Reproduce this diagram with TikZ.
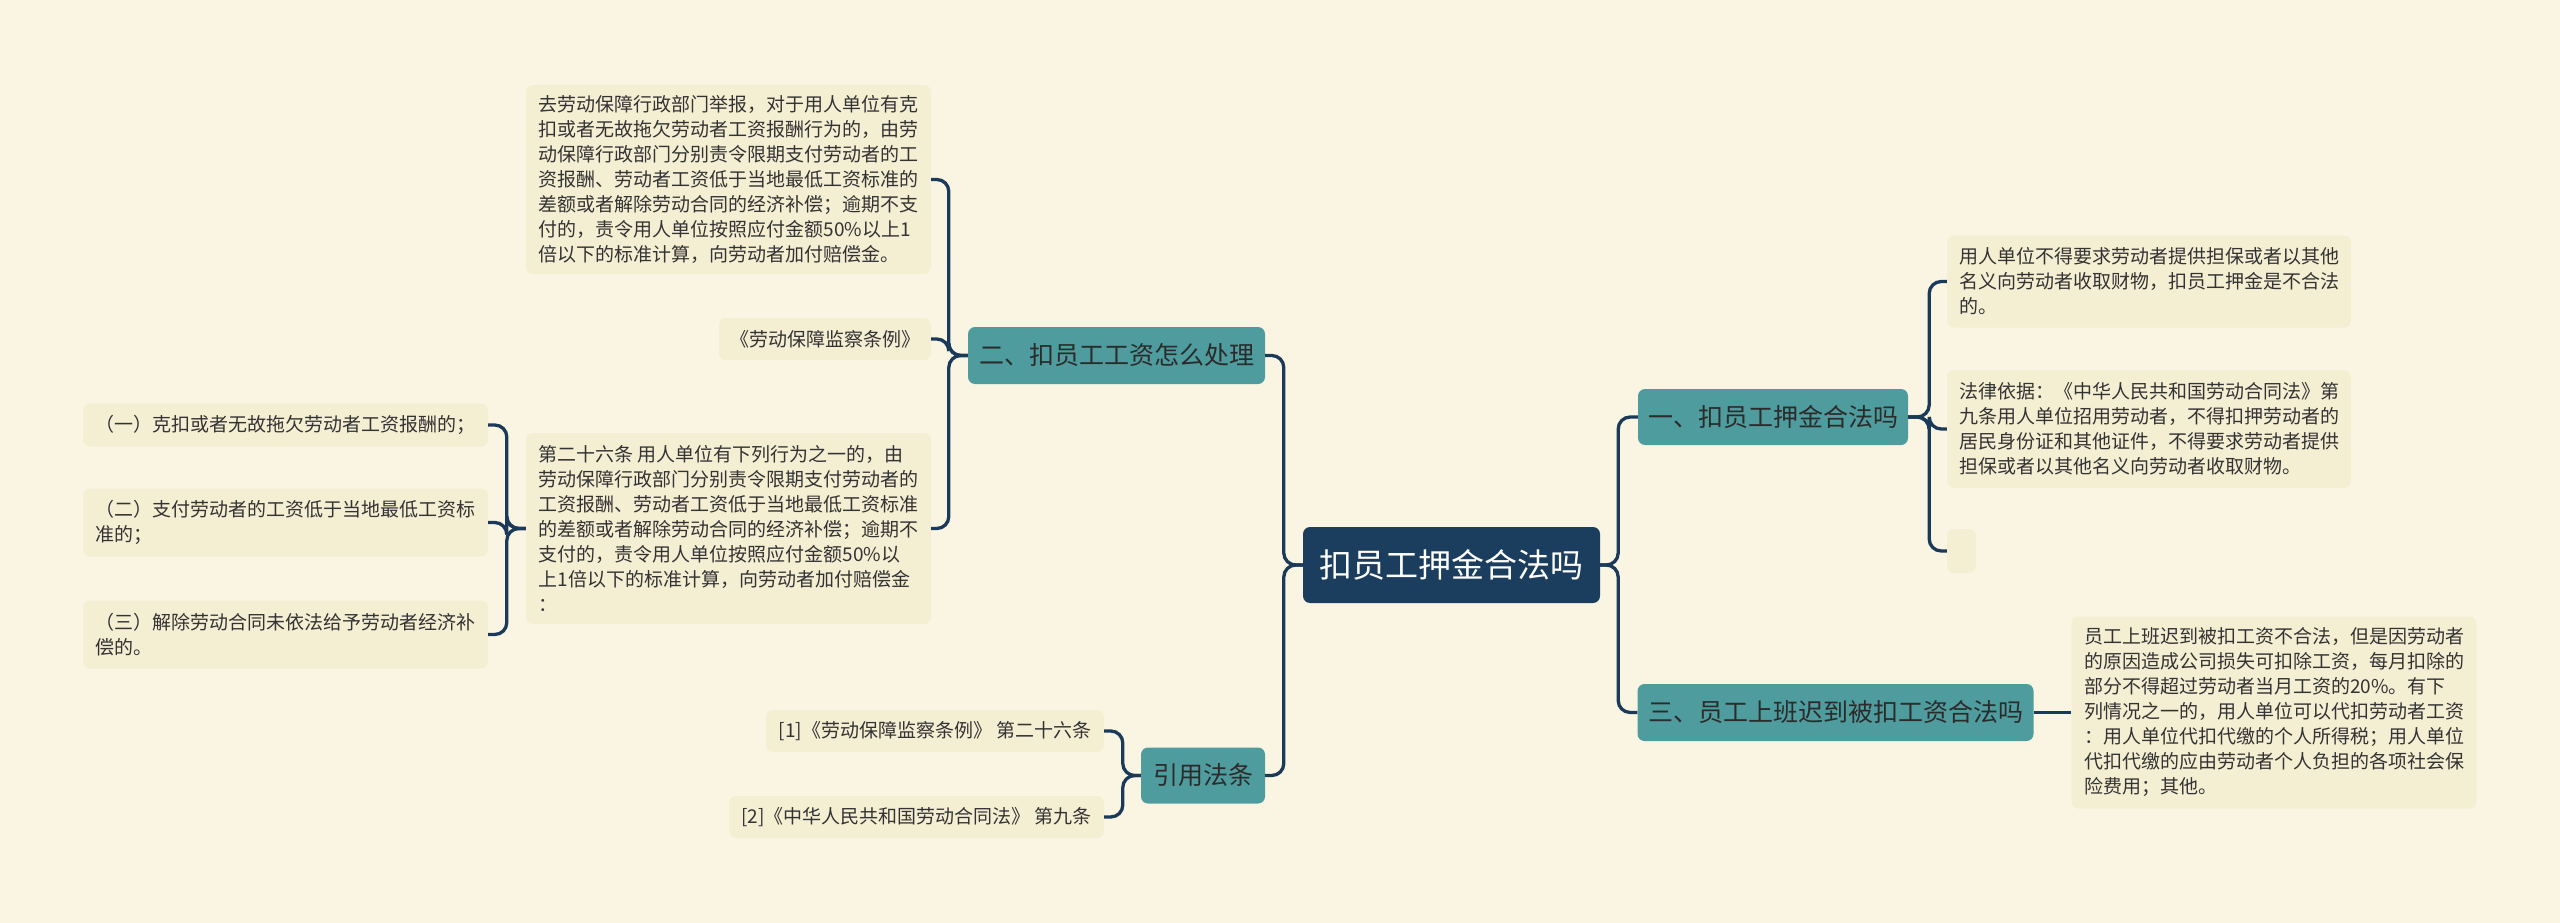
\documentclass[tikz,border=0pt]{standalone}
\usepackage{fontspec}
\setmainfont{Noto Sans CJK SC}
\usetikzlibrary{calc}
\definecolor{bg}{HTML}{FAF5E2}
\definecolor{leafc}{HTML}{F4EED3}
\definecolor{tealc}{HTML}{4F9C9E}
\definecolor{navyc}{HTML}{1C3E5E}
\definecolor{linec}{HTML}{1B3A5A}
\definecolor{txtc}{HTML}{333333}
\tikzset{
  leafbox/.style={fill=leafc, rounded corners=7pt, align=left, text=txtc,
    font=\fontsize{19}{25}\selectfont, inner sep=0pt},
  topicbox/.style={fill=tealc, rounded corners=7pt, text=txtc!85!black,
    font=\fontsize{25}{30}\selectfont, inner sep=0pt},
  rootbox/.style={fill=navyc, rounded corners=7pt, text=white,
    font=\fontsize{33}{38}\selectfont, inner sep=0pt},
  conn/.style={draw=linec, line width=3.3pt, rounded corners=12pt}
}
\begin{document}
\begin{tikzpicture}[x=1pt,y=-1pt]
\fill[bg] (0,0) rectangle (2560,923);
\useasboundingbox (0,0) rectangle (2560,923);

% root and topics
\node[rootbox, minimum width=297pt, minimum height=76pt] (root) at (1451.5,565) {扣员工押金合法吗};
\node[topicbox, minimum width=297pt, minimum height=57pt] (A) at (1116.5,355.5) {二、扣员工工资怎么处理};
\node[topicbox, minimum width=124pt, minimum height=56pt] (B) at (1203,775.5) {引用法条};
\node[topicbox, minimum width=270pt, minimum height=56pt] (C) at (1773,417) {一、扣员工押金合法吗};
\node[topicbox, minimum width=396pt, minimum height=57pt] (D) at (1835.5,712.5) {三、员工上班迟到被扣工资合法吗};

% leaves of A
\node[leafbox, minimum width=405pt, minimum height=189pt] (A1) at (728.5,179.5) {去劳动保障行政部门举报，对于用人单位有克\\扣或者无故拖欠劳动者工资报酬行为的，由劳\\动保障行政部门分别责令限期支付劳动者的工\\资报酬、劳动者工资低于当地最低工资标准的\\差额或者解除劳动合同的经济补偿；逾期不支\\付的，责令用人单位按照应付金额50\%以上1\\倍以下的标准计算，向劳动者加付赔偿金。};
\node[leafbox, minimum width=212pt, minimum height=42pt] (A2) at (825,339) {《劳动保障监察条例》};
\node[leafbox, minimum width=405pt, minimum height=191pt] (A3) at (728.5,528.5) {第二十六条 用人单位有下列行为之一的，由\\劳动保障行政部门分别责令限期支付劳动者的\\工资报酬、劳动者工资低于当地最低工资标准\\的差额或者解除劳动合同的经济补偿；逾期不\\支付的，责令用人单位按照应付金额50\%以\\上1倍以下的标准计算，向劳动者加付赔偿金\\：};
\node[leafbox, minimum width=405pt, minimum height=43pt] (A31) at (285.5,425) {（一）克扣或者无故拖欠劳动者工资报酬的；};
\node[leafbox, minimum width=405pt, minimum height=68pt] (A32) at (285.5,522.5) {（二）支付劳动者的工资低于当地最低工资标\\准的；};
\node[leafbox, minimum width=405pt, minimum height=68pt] (A33) at (285.5,634.5) {（三）解除劳动合同未依法给予劳动者经济补\\偿的。};

% leaves of B
\node[leafbox, minimum width=338pt, minimum height=42pt] (B1) at (935,731) {[1]《劳动保障监察条例》 第二十六条};
\node[leafbox, minimum width=375pt, minimum height=42pt] (B2) at (916.5,817) {[2]《中华人民共和国劳动合同法》 第九条};

% leaves of C
\node[leafbox, minimum width=404pt, minimum height=92pt] (C1) at (2149,281.5) {用人单位不得要求劳动者提供担保或者以其他\\名义向劳动者收取财物，扣员工押金是不合法\\的。};
\node[leafbox, minimum width=404pt, minimum height=118pt] (C2) at (2149,429) {法律依据：《中华人民共和国劳动合同法》第\\九条用人单位招用劳动者，不得扣押劳动者的\\居民身份证和其他证件，不得要求劳动者提供\\担保或者以其他名义向劳动者收取财物。};
\node[leafbox, minimum width=29pt, minimum height=44pt] (C3) at (1961.5,551) {};

% leaf of D
\node[leafbox, minimum width=405pt, minimum height=192pt] (D1) at (2274,712.5) {员工上班迟到被扣工资不合法，但是因劳动者\\的原因造成公司损失可扣除工资，每月扣除的\\部分不得超过劳动者当月工资的20\%。有下\\列情况之一的，用人单位可以代扣劳动者工资\\：用人单位代扣代缴的个人所得税；用人单位\\代扣代缴的应由劳动者个人负担的各项社会保\\险费用；其他。};

% connectors
\draw[conn] (root.west) -- ++(-19,0) |- (A.east);
\draw[conn] (root.west) -- ++(-19,0) |- (B.east);
\draw[conn] (root.east) -- ++(18,0) |- (C.west);
\draw[conn] (root.east) -- ++(18,0) |- (D.west);

\draw[conn] (A.west) -- ++(-19,0) |- (A1.east);
\draw[conn] (A.west) -- ++(-19,0) |- (A2.east);
\draw[conn] (A.west) -- ++(-19,0) |- (A3.east);

\draw[conn] (A3.west) -- ++(-19,0) |- (A31.east);
\draw[conn] (A3.west) -- ++(-19,0) |- (A32.east);
\draw[conn] (A3.west) -- ++(-19,0) |- (A33.east);

\draw[conn] (B.west) -- ++(-18,0) |- (B1.east);
\draw[conn] (B.west) -- ++(-18,0) |- (B2.east);

\draw[conn] (C.east) -- ++(21,0) |- (C1.west);
\draw[conn] (C.east) -- ++(21,0) |- (C2.west);
\draw[conn] (C.east) -- ++(21,0) |- (C3.west);

\draw[conn] (D.east) -- (D1.west);
\end{tikzpicture}
\end{document}
